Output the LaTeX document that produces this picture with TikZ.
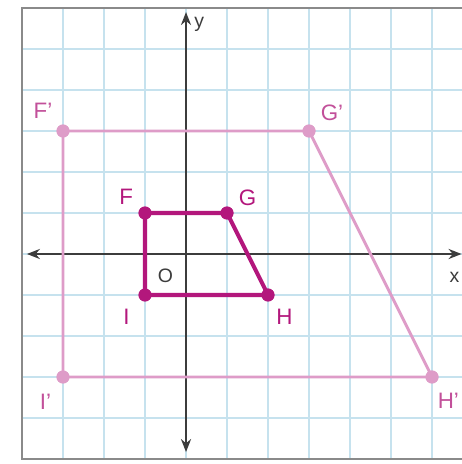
\documentclass[tikz,border=0pt]{standalone}
\usepackage{fontspec}
\setmainfont{Liberation Sans}
\usetikzlibrary{arrows.meta}
\definecolor{gridblue}{HTML}{C6E2EE}
\definecolor{darkmag}{HTML}{B3177C}
\definecolor{lightmag}{HTML}{DE9CC8}
\definecolor{lbltext}{HTML}{C2509A}
\definecolor{bordergray}{HTML}{8A8A8A}
\definecolor{axisgray}{HTML}{3C3C3C}
\begin{document}
\begin{tikzpicture}[x=1cm,y=1cm,
  gridline/.style={gridblue,line width=0.9pt},
  axisline/.style={axisgray,line width=1.3pt,{Stealth[length=9pt,width=7pt]}-{Stealth[length=9pt,width=7pt]}},
  small/.style={darkmag,line width=2.8pt,line join=round},
  big/.style={lightmag,line width=2pt,line join=round},
  dotS/.style={circle,fill=darkmag,inner sep=0pt,minimum size=9pt},
  dotB/.style={circle,fill=lightmag,inner sep=0pt,minimum size=9pt},
  lblS/.style={text=darkmag,font=\fontsize{15.5}{17}\selectfont,inner sep=0pt},
  lblB/.style={text=lbltext,font=\fontsize{15.5}{17}\selectfont,inner sep=0pt},
  axlbl/.style={text=axisgray,font=\fontsize{13.5}{15}\selectfont,inner sep=0pt}]
\useasboundingbox (-4.537,-5.122) rectangle (6.73,6.195);
\fill[white] (-4.537,-5.122) rectangle (6.73,6.195);
% grid
\begin{scope}
\clip (-4,-5) rectangle (6.73,6);
\foreach \x in {-3,...,6} \draw[gridline] (\x,-5) -- (\x,6);
\foreach \y in {-4,...,5} \draw[gridline] (-4,\y) -- (6.8,\y);
\end{scope}
\draw[bordergray,line width=1.4pt] (6.9,6) -- (-4,6) -- (-4,-5) -- (6.9,-5);
% axes
\coordinate (xl) at (-3.88,0);
\coordinate (xr) at (6.72,0);
\coordinate (yt) at (0,5.9);
\coordinate (yb) at (0,-4.83);
\draw[axisline] (xl) -- (xr);
\draw[axisline] (yb) -- (yt);
\node[axlbl] (ylab) at (0.32,5.6) {y};
\node[axlbl] (xlab) at (6.55,-0.57) {x};
\node[axlbl] (olab) at (-0.5,-0.52) {O};
% big figure
\node[dotB] (Fp) at (-3,3) {};
\node[dotB] (Gp) at (3,3) {};
\node[dotB] (Hp) at (6,-3) {};
\node[dotB] (Ip) at (-3,-3) {};
\draw[big] (Fp.center) -- (Gp.center) -- (Hp.center) -- (Ip.center) -- cycle;
\node[dotB] at (Fp) {};
\node[dotB] at (Gp) {};
\node[dotB] at (Hp) {};
\node[dotB] at (Ip) {};
\node[lblB] (FpL) at (-3.49,3.5) {F’};
\node[lblB] (GpL) at (3.56,3.44) {G’};
\node[lblB] (HpL) at (6.4,-3.59) {H’};
\node[lblB] (IpL) at (-3.43,-3.6) {I’};
% small figure
\node[dotS] (F) at (-1,1) {};
\node[dotS] (G) at (1,1) {};
\node[dotS] (H) at (2,-1) {};
\node[dotS] (I) at (-1,-1) {};
\draw[small] (F.center) -- (G.center) -- (H.center) -- (I.center) -- cycle;
\node[dotS] at (F) {};
\node[dotS] at (G) {};
\node[dotS] at (H) {};
\node[dotS] at (I) {};
\node[lblS] (FL) at (-1.46,1.4) {F};
\node[lblS] (GL) at (1.5,1.37) {G};
\node[lblS] (HL) at (2.4,-1.53) {H};
\node[lblS] (IL) at (-1.45,-1.53) {I};
\end{tikzpicture}
\end{document}
